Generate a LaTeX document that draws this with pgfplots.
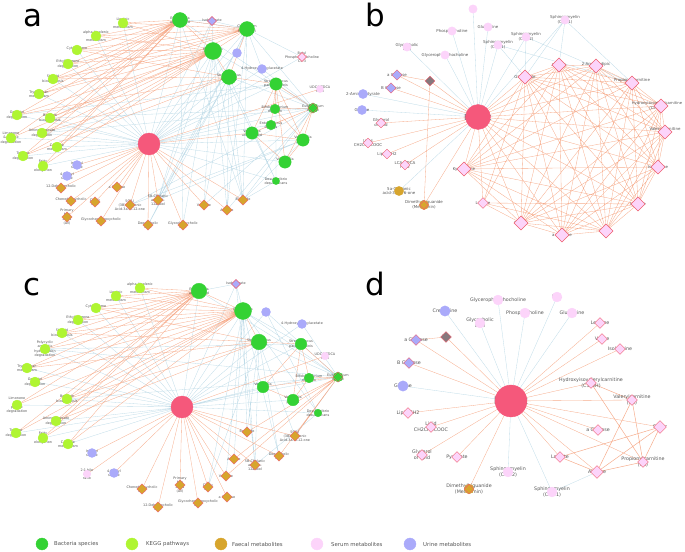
\documentclass[border=0pt]{standalone}
\usepackage{pgfplots}
\pgfplotsset{compat=1.18}
\usepackage{fontspec}
\setmainfont{DejaVu Sans}
\definecolor{bactc}{RGB}{52,210,52}
\definecolor{keggc}{RGB}{175,245,50}
\definecolor{faecc}{RGB}{215,165,45}
\definecolor{serc}{RGB}{252,212,250}
\definecolor{urc}{RGB}{170,170,250}
\definecolor{hubc}{RGB}{245,88,123}
\definecolor{dred}{RGB}{238,95,110}
\definecolor{agec}{RGB}{135,120,125}
\definecolor{edgeo}{RGB}{246,172,140}
\definecolor{edgeb}{RGB}{192,220,232}
\definecolor{labc}{RGB}{85,85,85}
\tikzset{
 la/.style={font=\fontsize{3.4}{4.2}\selectfont, text=labc, align=center, inner sep=0pt},
 lb/.style={font=\fontsize{4}{4.9}\selectfont, text=labc, align=center, inner sep=0pt},
 ld/.style={font=\fontsize{4.8}{6.2}\selectfont, text=labc, align=center, inner sep=0pt},
 pl/.style={font=\fontsize{31}{31}\selectfont, anchor=base west, inner sep=0pt},
 lg/.style={font=\fontsize{5.4}{6}\selectfont, text=labc, anchor=west, inner sep=0pt},
}
\pgfplotsset{
 eo/.style={color=edgeo, line width=0.32pt, line join=round, mark=none},
 eb/.style={color=edgeb, line width=0.32pt, line join=round, mark=none},
}
\begin{document}
\begin{tikzpicture}
\begin{axis}[at={(0,0)}, anchor=south west, scale only axis, width=685bp, height=552bp,
 xmin=0, xmax=685, ymin=0, ymax=552, y dir=reverse, axis lines=none, clip=false]

% ================= PANEL A edges =================
\addplot[eb] coordinates {(149,144)(123,23)(149,144)(96,36)(149,144)(77,50)(149,144)(68,64)(149,144)(53,79)(149,144)(39,94)(149,144)(17,115)(149,144)(50,118)(149,144)(42,133)(149,144)(11,138)(149,144)(57,147)(149,144)(23,156)(149,144)(43,166)(149,144)(180,20)(149,144)(247,29)(149,144)(213,51)(149,144)(229,77)(149,144)(276,84)(149,144)(275,109)(149,144)(271,125)(149,144)(313,108)(149,144)(303,140)(149,144)(285,162)(149,144)(276,181)(149,144)(237,53)(149,144)(262,69)(149,144)(212,21)(149,144)(302,57)};
\addplot[eb] coordinates {(213,51)(204,205)(213,51)(227,210)(213,51)(243,200)(213,51)(183,225)(213,51)(158,200)(229,77)(204,205)(229,77)(227,210)(229,77)(243,200)(229,77)(148,225)(247,29)(227,210)(247,29)(243,200)(247,29)(158,200)(247,29)(237,53)(247,29)(262,69)(247,29)(302,57)(247,29)(313,108)(213,51)(313,108)(229,77)(313,108)(180,20)(313,108)(262,69)(313,108)(227,210)(313,108)(243,200)(313,108)(204,205)(313,108)(130,205)(313,108)(50,118)(313,108)(42,133)(276,84)(17,115)(276,84)(276,181)(213,51)(276,181)(229,77)(276,181)(243,200)(303,140)(130,205)(303,140)(158,200)(212,21)(180,20)(212,21)(213,51)(212,21)(247,29)(180,20)(183,225)(180,20)(243,200)};
\addplot[eo] coordinates {(149,144)(61,188)(149,144)(117,187)(149,144)(71,201)(149,144)(95,202)(149,144)(130,205)(149,144)(158,200)(149,144)(204,205)(149,144)(227,210)(149,144)(243,200)(149,144)(67,217)(149,144)(101,221)(149,144)(148,225)(149,144)(183,225)(149,144)(77,165)(149,144)(67,176)(149,144)(252,133)(149,144)(320,89)};
\addplot[eo] coordinates {(180,20)(123,23)(180,20)(96,36)(180,20)(77,50)(180,20)(68,64)(180,20)(53,79)(180,20)(39,94)(180,20)(17,115)(180,20)(50,118)(180,20)(42,133)(180,20)(11,138)(180,20)(57,147)(180,20)(23,156)(180,20)(43,166)(180,20)(247,29)(180,20)(213,51)};
\addplot[eo] coordinates {(213,51)(123,23)(213,51)(96,36)(213,51)(77,50)(213,51)(68,64)(213,51)(53,79)(213,51)(39,94)(213,51)(17,115)(213,51)(50,118)(213,51)(42,133)(213,51)(11,138)(213,51)(57,147)(213,51)(23,156)(213,51)(43,166)(213,51)(247,29)(213,51)(229,77)};
\addplot[eo] coordinates {(247,29)(123,23)(247,29)(96,36)(247,29)(77,50)(247,29)(68,64)(247,29)(53,79)(247,29)(39,94)(247,29)(50,118)(247,29)(229,77)(77,50)(229,77)(53,79)(229,77)(17,115)(229,77)(42,133)(229,77)(23,156)(229,77)(276,84)};
\addplot[eo] coordinates {(276,84)(303,140)(276,84)(285,162)(276,84)(313,108)(276,84)(252,133)(276,84)(275,109)(276,84)(271,125)(252,133)(303,140)(252,133)(285,162)(252,133)(271,125)(252,133)(313,108)(303,140)(285,162)(303,140)(313,108)(303,140)(275,109)(313,108)(271,125)(313,108)(275,109)(313,108)(285,162)};

% ================= PANEL C edges =================
\addplot[eb] coordinates {(182,407)(140,288)(182,407)(116,296)(182,407)(96,308)(182,407)(78,320)(182,407)(62,333)(182,407)(45,349)(182,407)(27,368)(182,407)(35,382)(182,407)(17,405)(182,407)(67,399)(182,407)(56,421)(182,407)(16,433)(182,407)(43,438)(182,407)(68,444)(182,407)(199,291)(182,407)(243,311)(182,407)(259,342)(182,407)(301,344)(182,407)(338,377)(182,407)(309,378)(182,407)(263,387)(182,407)(293,400)(182,407)(318,413)(182,407)(266,312)(182,407)(302,324)(182,407)(236,284)};
\addplot[eb] coordinates {(243,311)(247,432)(243,311)(234,459)(243,311)(255,465)(243,311)(279,456)(243,311)(226,476)(243,311)(208,487)(259,342)(247,432)(259,342)(255,465)(259,342)(279,456)(259,342)(295,436)(338,377)(243,311)(338,377)(259,342)(338,377)(199,291)(338,377)(302,324)(338,377)(266,312)(318,413)(243,311)(318,413)(255,465)(236,284)(199,291)(236,284)(243,311)(301,344)(45,349)(338,377)(67,399)};
\addplot[eo] coordinates {(182,407)(247,432)(182,407)(295,436)(182,407)(234,459)(182,407)(255,465)(182,407)(279,456)(182,407)(226,476)(182,407)(208,487)(182,407)(227,497)(182,407)(180,485)(182,407)(142,489)(182,407)(198,503)(182,407)(158,507)(182,407)(92,453)(182,407)(114,473)(182,407)(87,474)(182,407)(325,356)};
\addplot[eo] coordinates {(199,291)(140,288)(199,291)(116,296)(199,291)(96,308)(199,291)(78,320)(199,291)(62,333)(199,291)(45,349)(199,291)(27,368)(199,291)(35,382)(199,291)(17,405)(199,291)(67,399)(199,291)(56,421)(199,291)(16,433)(199,291)(43,438)(199,291)(68,444)(199,291)(243,311)};
\addplot[eo] coordinates {(243,311)(140,288)(243,311)(116,296)(243,311)(96,308)(243,311)(78,320)(243,311)(62,333)(243,311)(45,349)(243,311)(27,368)(243,311)(35,382)(243,311)(17,405)(243,311)(67,399)(243,311)(56,421)(243,311)(16,433)(243,311)(43,438)(243,311)(68,444)(243,311)(259,342)};
\addplot[eo] coordinates {(259,342)(96,308)(259,342)(62,333)(259,342)(27,368)(259,342)(67,399)(259,342)(56,421)(259,342)(301,344)(293,400)(301,344)(338,377)(301,344)(309,378)(301,344)(263,387)(293,400)(263,387)(338,377)(293,400)(309,378)(338,377)(247,432)(338,377)(295,436)(338,377)(234,459)(338,377)(279,456)(338,377)(226,476)};

% ================= PANEL B edges =================
\addplot[eb] coordinates {(478,117)(473,9)(478,117)(488,27)(478,117)(452,31)(478,117)(526,37)(478,117)(498,45)(478,117)(407,47)(478,117)(445,55)(478,117)(363,94)(478,117)(362,110)(478,117)(399,191)(478,117)(565,20)(525,77)(565,20)(559,65)(565,20)(632,83)(526,37)(525,77)(526,37)(632,83)(498,45)(525,77)};
\addplot[eo] coordinates {(478,117)(525,77)(478,117)(559,65)(478,117)(596,66)(478,117)(632,83)(478,117)(661,106)(478,117)(665,132)(478,117)(658,167)(478,117)(638,204)(478,117)(606,231)(478,117)(562,235)(478,117)(521,223)(478,117)(483,203)(478,117)(464,169)(478,117)(397,75)(478,117)(430,81)(478,117)(391,88)(478,117)(381,123)(478,117)(368,143)(478,117)(387,154)(478,117)(405,165)(478,117)(424,205)(430,81)(397,75)};
\addplot[eo] coordinates {(525,77)(559,65)(525,77)(596,66)(525,77)(632,83)(525,77)(661,106)(525,77)(665,132)(525,77)(658,167)(525,77)(638,204)(525,77)(606,231)(525,77)(562,235)(525,77)(521,223)(525,77)(483,203)(525,77)(464,169)
(559,65)(596,66)(559,65)(632,83)(559,65)(661,106)(559,65)(665,132)(559,65)(658,167)(559,65)(638,204)(559,65)(606,231)(559,65)(562,235)(559,65)(521,223)(559,65)(483,203)(559,65)(464,169)
(596,66)(632,83)(596,66)(661,106)(596,66)(665,132)(596,66)(658,167)(596,66)(638,204)(596,66)(606,231)(596,66)(562,235)(596,66)(521,223)(596,66)(464,169)
(632,83)(661,106)(632,83)(665,132)(632,83)(658,167)(632,83)(638,204)(632,83)(606,231)(632,83)(562,235)(632,83)(521,223)(632,83)(464,169)
(661,106)(665,132)(661,106)(658,167)(661,106)(638,204)(661,106)(606,231)(661,106)(562,235)(661,106)(521,223)(661,106)(464,169)
(665,132)(658,167)(665,132)(638,204)(665,132)(606,231)(665,132)(562,235)(665,132)(521,223)(665,132)(464,169)
(658,167)(638,204)(658,167)(606,231)(658,167)(562,235)(658,167)(521,223)(658,167)(464,169)
(638,204)(606,231)(638,204)(562,235)(638,204)(521,223)(638,204)(483,203)(638,204)(464,169)
(606,231)(562,235)(606,231)(521,223)(606,231)(483,203)(606,231)(464,169)
(562,235)(521,223)(562,235)(464,169)
(521,223)(483,203)(521,223)(464,169)};

% ================= PANEL D edges =================
\addplot[eb] coordinates {(511,401)(445,311)(511,401)(403,386)(511,401)(498,300)(511,401)(557,297)(511,401)(480,323)(511,401)(525,313)(511,401)(572,313)(511,401)(508,472)(511,401)(552,492)(597,472)};
\addplot[eo] coordinates {(511,401)(600,323)(511,401)(602,339)(511,401)(620,349)(511,401)(591,383)(511,401)(632,400)(511,401)(660,427)(511,401)(598,430)(511,401)(408,413)(511,401)(431,427)(511,401)(422,455)(511,401)(457,457)(511,401)(560,457)(511,401)(643,462)(511,401)(597,472)(511,401)(416,340)(511,401)(409,363)(511,401)(446,337)(511,401)(469,489)};
\addplot[eo] coordinates {(446,337)(416,340)};
\addplot[eo, line width=0.5pt] coordinates {(591,383)(643,462)(632,400)(597,472)(660,427)(560,457)(597,472)(643,462)(660,427)(597,472)(632,400)(643,462)(591,383)(632,400)};

% ================= NODES: panel A =================
\addplot[only marks, mark=*, mark size=11, mark options={fill=hubc, draw=hubc}] coordinates {(149,144)};
\addplot[only marks, mark=*, mark size=8.5, mark options={fill=bactc, draw=bactc}] coordinates {(213,51)};
\addplot[only marks, mark=*, mark size=7.5, mark options={fill=bactc, draw=bactc}] coordinates {(180,20)(247,29)(229,77)};
\addplot[only marks, mark=*, mark size=6.2, mark options={fill=bactc, draw=bactc}] coordinates {(276,84)(252,133)(303,140)(285,162)};
\addplot[only marks, mark=*, mark size=4.8, mark options={fill=bactc, draw=bactc}] coordinates {(275,109)(271,125)(313,108)};
\addplot[only marks, mark=*, mark size=3.6, mark options={fill=bactc, draw=bactc}] coordinates {(276,181)};
\addplot[only marks, mark=square*, mark size=3.6, mark options={rotate=45, fill=bactc, draw=dred, line width=0.4pt}] coordinates {(313,108)};
\addplot[only marks, mark=*, mark size=5, mark options={fill=keggc, draw=keggc}] coordinates {(123,23)(96,36)(77,50)(68,64)(53,79)(39,94)(17,115)(50,118)(42,133)(11,138)(57,147)(23,156)(43,166)};
\addplot[only marks, mark=square*, mark size=3.6, mark options={rotate=45, fill=faecc, draw=dred, line width=0.4pt}] coordinates {(61,188)(117,187)(71,201)(95,202)(130,205)(158,200)(204,205)(227,210)(243,200)(67,217)(101,221)(148,225)(183,225)};
\addplot[only marks, mark=*, mark size=4.5, mark options={fill=urc, draw=urc}] coordinates {(237,53)(262,69)(77,165)(67,176)};
\addplot[only marks, mark=square*, mark size=3.2, mark options={rotate=45, fill=urc, draw=dred, line width=0.4pt}] coordinates {(212,21)};
\addplot[only marks, mark=square*, mark size=3.2, mark options={rotate=45, fill=serc, draw=dred, line width=0.4pt}] coordinates {(302,57)};
\addplot[only marks, mark=*, mark size=3.6, mark options={fill=serc, draw=serc}] coordinates {(320,89)};

% ================= NODES: panel C =================
\addplot[only marks, mark=*, mark size=11, mark options={fill=hubc, draw=hubc}] coordinates {(182,407)};
\addplot[only marks, mark=*, mark size=8.5, mark options={fill=bactc, draw=bactc}] coordinates {(243,311)};
\addplot[only marks, mark=*, mark size=7.8, mark options={fill=bactc, draw=bactc}] coordinates {(199,291)(259,342)};
\addplot[only marks, mark=*, mark size=5.8, mark options={fill=bactc, draw=bactc}] coordinates {(301,344)(263,387)(293,400)};
\addplot[only marks, mark=*, mark size=4.8, mark options={fill=bactc, draw=bactc}] coordinates {(309,378)(338,377)};
\addplot[only marks, mark=*, mark size=3.8, mark options={fill=bactc, draw=bactc}] coordinates {(318,413)};
\addplot[only marks, mark=square*, mark size=3.6, mark options={rotate=45, fill=bactc, draw=dred, line width=0.4pt}] coordinates {(338,377)};
\addplot[only marks, mark=*, mark size=5, mark options={fill=keggc, draw=keggc}] coordinates {(140,288)(116,296)(96,308)(78,320)(62,333)(45,349)(27,368)(35,382)(17,405)(67,399)(56,421)(16,433)(43,438)(68,444)};
\addplot[only marks, mark=square*, mark size=3.6, mark options={rotate=45, fill=faecc, draw=dred, line width=0.4pt}] coordinates {(247,432)(295,436)(234,459)(255,465)(279,456)(226,476)(208,487)(227,497)(180,485)(142,489)(198,503)(158,507)};
\addplot[only marks, mark=*, mark size=4.5, mark options={fill=urc, draw=urc}] coordinates {(266,312)(302,324)(92,453)(114,473)};
\addplot[only marks, mark=square*, mark size=3.2, mark options={rotate=45, fill=urc, draw=dred, line width=0.4pt}] coordinates {(236,284)};
\addplot[only marks, mark=*, mark size=3.8, mark options={fill=serc, draw=serc}] coordinates {(325,356)(87,474)};

% ================= NODES: panel B =================
\addplot[only marks, mark=*, mark size=12.5, mark options={fill=hubc, draw=hubc}] coordinates {(478,117)};
\addplot[only marks, mark=*, mark size=4.2, mark options={fill=serc, draw=serc}] coordinates {(473,9)(488,27)(452,31)(565,20)(526,37)(498,45)(407,47)(445,55)};
\addplot[only marks, mark=*, mark size=4.6, mark options={fill=urc, draw=urc}] coordinates {(363,94)(362,110)};
\addplot[only marks, mark=square*, mark size=3.6, mark options={rotate=45, fill=urc, draw=dred, line width=0.4pt}] coordinates {(397,75)(391,88)};
\addplot[only marks, mark=square*, mark size=3.4, mark options={rotate=45, fill=agec, draw=dred, line width=0.4pt}] coordinates {(430,81)};
\addplot[only marks, mark=square*, mark size=3.4, mark options={rotate=45, fill=serc, draw=dred, line width=0.4pt}] coordinates {(381,123)(368,143)(387,154)(405,165)};
\addplot[only marks, mark=*, mark size=4.6, mark options={fill=faecc, draw=faecc}] coordinates {(399,191)(424,205)};
\addplot[only marks, mark=square*, mark size=3.2, mark options={rotate=45, fill=faecc, draw=dred, line width=0.4pt}] coordinates {(424,205)};
\addplot[only marks, mark=square*, mark size=5, mark options={rotate=45, fill=serc, draw=dred, line width=0.45pt}] coordinates {(525,77)(559,65)(596,66)(632,83)(661,106)(665,132)(658,167)(638,204)(606,231)(562,235)(521,223)(464,169)};
\addplot[only marks, mark=square*, mark size=3.8, mark options={rotate=45, fill=serc, draw=dred, line width=0.45pt}] coordinates {(483,203)};

% ================= NODES: panel D =================
\addplot[only marks, mark=*, mark size=16, mark options={fill=hubc, draw=hubc}] coordinates {(511,401)};
\addplot[only marks, mark=*, mark size=5.2, mark options={fill=urc, draw=urc}] coordinates {(445,311)(403,386)};
\addplot[only marks, mark=*, mark size=5, mark options={fill=serc, draw=serc}] coordinates {(498,300)(557,297)(480,323)(525,313)(572,313)(508,472)(552,492)};
\addplot[only marks, mark=square*, mark size=3.8, mark options={rotate=45, fill=serc, draw=dred, line width=0.45pt}] coordinates {(600,323)(602,339)(620,349)(591,383)(632,400)(598,430)(408,413)(431,427)(422,455)(457,457)(560,457)(643,462)};
\addplot[only marks, mark=square*, mark size=4.5, mark options={rotate=45, fill=serc, draw=dred, line width=0.45pt}] coordinates {(660,427)(597,472)};
\addplot[only marks, mark=square*, mark size=3.8, mark options={rotate=45, fill=urc, draw=dred, line width=0.45pt}] coordinates {(416,340)(409,363)};
\addplot[only marks, mark=square*, mark size=3.8, mark options={rotate=45, fill=agec, draw=dred, line width=0.45pt}] coordinates {(446,337)};
\addplot[only marks, mark=*, mark size=4.8, mark options={fill=faecc, draw=faecc}] coordinates {(469,489)};
\addplot[only marks, mark=square*, mark size=3.4, mark options={rotate=45, fill=faecc, draw=dred, line width=0.4pt}] coordinates {(469,489)};

% ================= LEGEND =================
\addplot[only marks, mark=*, mark size=6, mark options={fill=bactc, draw=bactc}] coordinates {(42,544)};
\addplot[only marks, mark=*, mark size=6, mark options={fill=keggc, draw=keggc}] coordinates {(132,544)};
\addplot[only marks, mark=*, mark size=6, mark options={fill=faecc, draw=faecc}] coordinates {(221,544)};
\addplot[only marks, mark=*, mark size=6, mark options={fill=serc, draw=serc}] coordinates {(317,544)};
\addplot[only marks, mark=*, mark size=6, mark options={fill=urc, draw=urc}] coordinates {(410,544)};
\node[lg] at (axis cs:54,544) {Bacteria species};
\node[lg] at (axis cs:146,544) {KEGG pathways};
\node[lg] at (axis cs:232,544) {Faecal metabolites};
\node[lg] at (axis cs:331,544) {Serum metabolites};
\node[lg] at (axis cs:423,544) {Urine metabolites};

% ================= panel letters =================
\node[pl] at (axis cs:23,27) {a};
\node[pl] at (axis cs:365,27) {b};
\node[pl] at (axis cs:23,295) {c};
\node[pl] at (axis cs:365,295) {d};

% ================= LABELS panel A =================
\node[font=\fontsize{6.5}{7}\selectfont, text=labc] at (axis cs:149,144) {BMI};
\node[la] at (axis cs:180,20) {Escherichia\\unclassified};
\node[la] at (axis cs:247,29) {Clostridium\\hathewayi};
\node[la] at (axis cs:213,51) {Escherichia\\coli};
\node[la] at (axis cs:229,77) {Streptococcus\\salivarius};
\node[la] at (axis cs:276,84) {Streptococcus\\parasanguinis};
\node[la] at (axis cs:275,109) {Bifidobacterium\\dentium};
\node[la] at (axis cs:271,125) {Enterococcus\\faecalis};
\node[la] at (axis cs:252,133) {Veillonella\\unclassified};
\node[la] at (axis cs:303,140) {Veillonella\\parvula};
\node[la] at (axis cs:285,162) {Veillonella\\dispar};
\node[la] at (axis cs:276,181) {Desulfovibrio\\desulfuricans};
\node[la] at (axis cs:313,108) {Eubacterium\\rectale};
\node[la] at (axis cs:212,21) {Isobutyrate};
\node[la] at (axis cs:237,53) {PAG};
\node[la] at (axis cs:262,69) {4-Hydroxyphenylacetate};
\node[la] at (axis cs:302,57) {Butyl\\Phosphatidylcholine\\C3:3};
\node[la] at (axis cs:320,89) {UDCA/CDCA\\ratio};
\node[la] at (axis cs:123,23) {Linoleic\\acid\\metabolism};
\node[la] at (axis cs:96,36) {alpha-Linolenic\\acid\\metabolism};
\node[la] at (axis cs:77,50) {Cytochrome\\P450};
\node[la] at (axis cs:68,64) {Ethylbenzene\\degradation};
\node[la] at (axis cs:53,79) {Steroid\\biosynthesis};
\node[la] at (axis cs:39,94) {Tryptophan\\metabolism};
\node[la] at (axis cs:17,115) {Geraniol\\degradation};
\node[la] at (axis cs:50,118) {Betalain\\biosynthesis};
\node[la] at (axis cs:42,133) {Aminobenzoate\\degradation};
\node[la] at (axis cs:11,138) {Limonene\\\& pinene\\degradation};
\node[la] at (axis cs:57,147) {Caffeine\\metabolism};
\node[la] at (axis cs:23,156) {Toluene\\degradation};
\node[la] at (axis cs:43,166) {Fatty\\acid\\elongation};
\node[la] at (axis cs:77,165) {Indoxyl\\sulfate};
\node[la] at (axis cs:67,176) {4-Cresyl\\sulfate};
\node[la] at (axis cs:61,188) {12-Dehydrocholic\\acid};
\node[la] at (axis cs:117,187) {a Glucose};
\node[la] at (axis cs:71,201) {Chenodeoxycholic\\acid};
\node[la] at (axis cs:95,202) {Cholic\\acid};
\node[la] at (axis cs:130,205) {5C(L)\\(3B)-Cholenic\\Acid-3a-ol-12-one};
\node[la] at (axis cs:158,200) {5B-Cholanic\\acid-3a-\\12a-diol};
\node[la] at (axis cs:204,205) {Valerate};
\node[la] at (axis cs:227,210) {Acetate};
\node[la] at (axis cs:243,200) {Butyrate};
\node[la] at (axis cs:67,217) {Primary\\bile\\acids\\(All)};
\node[la] at (axis cs:101,221) {Glycochenodeoxycholic\\acid};
\node[la] at (axis cs:148,225) {Deoxycholic\\acid};
\node[la] at (axis cs:183,225) {Glycodeoxycholic\\acid};

% ================= LABELS panel C =================
\node[font=\fontsize{6.5}{7}\selectfont, text=labc] at (axis cs:182,407) {BMI};
\node[la] at (axis cs:199,291) {Escherichia\\unclassified};
\node[la] at (axis cs:243,311) {Escherichia\\coli};
\node[la] at (axis cs:259,342) {Streptococcus\\salivarius};
\node[la] at (axis cs:301,344) {Streptococcus\\parasanguinis};
\node[la] at (axis cs:309,378) {Bifidobacterium\\dentium};
\node[la] at (axis cs:338,377) {Eubacterium\\rectale};
\node[la] at (axis cs:263,387) {Veillonella\\dispar};
\node[la] at (axis cs:293,400) {Veillonella\\parvula};
\node[la] at (axis cs:318,413) {Desulfovibrio\\desulfuricans};
\node[la] at (axis cs:236,284) {Isobutyrate};
\node[la] at (axis cs:266,312) {PAG};
\node[la] at (axis cs:302,324) {4-Hydroxyphenylacetate};
\node[la] at (axis cs:325,356) {UDCA/CDCA\\ratio};
\node[la] at (axis cs:140,288) {alpha-Linolenic\\acid\\metabolism};
\node[la] at (axis cs:116,296) {Linoleic\\acid\\metabolism};
\node[la] at (axis cs:96,308) {Cytochrome\\P450};
\node[la] at (axis cs:78,320) {Ethylbenzene\\degradation};
\node[la] at (axis cs:62,333) {Steroid\\biosynthesis};
\node[la] at (axis cs:45,349) {Polycyclic\\aromatic\\hydrocarbon\\degradation};
\node[la] at (axis cs:27,368) {Tryptophan\\metabolism};
\node[la] at (axis cs:35,382) {Geraniol\\degradation};
\node[la] at (axis cs:17,405) {Limonene\\and\\pinene\\degradation};
\node[la] at (axis cs:67,399) {Betalain\\biosynthesis};
\node[la] at (axis cs:56,421) {Aminobenzoate\\degradation};
\node[la] at (axis cs:16,433) {Toluene\\degradation};
\node[la] at (axis cs:43,438) {Fatty\\acid\\elongation};
\node[la] at (axis cs:68,444) {Caffeine\\metabolism};
\node[la] at (axis cs:92,453) {Indoxyl\\sulfate};
\node[la] at (axis cs:114,473) {4-Cresyl\\sulfate};
\node[la] at (axis cs:87,474) {2:1 bile\\acid\\ratio};
\node[la] at (axis cs:247,432) {Butyrate};
\node[la] at (axis cs:295,436) {5C(L)\\(3B)-Cholenic\\Acid-3a-ol-12-one};
\node[la] at (axis cs:234,459) {Acetate};
\node[la] at (axis cs:255,465) {5B-Cholanic\\acid-3a-\\12a-diol};
\node[la] at (axis cs:279,456) {Deoxycholic\\acid};
\node[la] at (axis cs:226,476) {Valerate};
\node[la] at (axis cs:208,487) {Cholic\\acid};
\node[la] at (axis cs:227,497) {a Glucose};
\node[la] at (axis cs:180,485) {Primary\\bile\\acids\\(All)};
\node[la] at (axis cs:142,489) {Chenodeoxycholic\\acid};
\node[la] at (axis cs:198,503) {Glycochenodeoxycholic\\acid};
\node[la] at (axis cs:158,507) {12-Dehydrocholic\\acid};

% ================= LABELS panel B =================
\node[font=\fontsize{8.5}{9}\selectfont, text=labc] at (axis cs:478,117) {HbA1c};
\node[lb] at (axis cs:473,9) {HDL};
\node[lb] at (axis cs:488,27) {Glutamine};
\node[lb] at (axis cs:452,31) {Phosphocholine};
\node[lb] at (axis cs:565,20) {Sphingomyelin\\(C24:1)};
\node[lb] at (axis cs:526,37) {Sphingomyelin\\(C20:2)};
\node[lb] at (axis cs:498,45) {Sphingomyelin\\(C28:1)};
\node[lb] at (axis cs:407,47) {Glycocholic\\acid};
\node[lb] at (axis cs:445,55) {Glycerophosphocholine};
\node[lb] at (axis cs:397,75) {a Glucose};
\node[lb] at (axis cs:430,81) {Age};
\node[lb] at (axis cs:391,88) {B Glucose};
\node[lb] at (axis cs:363,94) {2-Aminobutyrate};
\node[lb] at (axis cs:362,110) {Glycine};
\node[lb] at (axis cs:381,123) {Glycerol\\of lipid};
\node[lb] at (axis cs:368,143) {Lipid\\CH2CH2COOC};
\node[lb] at (axis cs:387,154) {Lipid CH2};
\node[lb] at (axis cs:405,165) {LCA/UDCA\\ratio};
\node[lb] at (axis cs:399,191) {5a-Cholanic\\acid-3a-ol-6-one};
\node[lb] at (axis cs:424,205) {Dimethylbiguanide\\(Metformin)};
\node[lb] at (axis cs:525,77) {Glutamate};
\node[lb] at (axis cs:559,65) {Alanine};
\node[lb] at (axis cs:596,66) {2-Aminoadipic\\acid};
\node[lb] at (axis cs:632,83) {Propionylcarnitine\\(C3)};
\node[lb, font=\fontsize{3.8}{4.7}\selectfont] at (axis cs:657,106) {Hydroxyisovalerylcarnitine\\(C5-OH)};
\node[lb] at (axis cs:665,132) {Valerylcarnitine\\(C5)};
\node[lb] at (axis cs:658,167) {Isoleucine};
\node[lb] at (axis cs:638,204) {Leucine};
\node[lb] at (axis cs:606,231) {Valine};
\node[lb] at (axis cs:562,235) {a Glucose};
\node[lb] at (axis cs:521,223) {Proline};
\node[lb] at (axis cs:483,203) {Lactate};
\node[lb] at (axis cs:464,169) {Kynurenine};

% ================= LABELS panel D =================
\node[font=\fontsize{10.5}{11}\selectfont, text=labc] at (axis cs:511,401) {HbA1c};
\node[ld] at (axis cs:445,311) {Creatinine};
\node[ld] at (axis cs:498,300) {Glycerophosphocholine};
\node[ld] at (axis cs:557,297) {HDL};
\node[ld] at (axis cs:480,323) {Glycocholic\\acid};
\node[ld] at (axis cs:525,313) {Phosphocholine};
\node[ld] at (axis cs:572,313) {Glutamine};
\node[ld] at (axis cs:600,323) {Leucine};
\node[ld] at (axis cs:602,339) {Valine};
\node[ld] at (axis cs:620,349) {Isoleucine};
\node[ld] at (axis cs:446,337) {Age};
\node[ld] at (axis cs:416,340) {a Glucose};
\node[ld] at (axis cs:409,363) {B Glucose};
\node[ld] at (axis cs:403,386) {Glycine};
\node[ld] at (axis cs:591,383) {Hydroxyisovalerylcarnitine\\(C5-OH)};
\node[ld] at (axis cs:632,400) {Valerylcarnitine\\(C5)};
\node[ld] at (axis cs:660,427) {Sugar};
\node[ld] at (axis cs:598,430) {a Glucose};
\node[ld] at (axis cs:408,413) {Lipid CH2};
\node[ld] at (axis cs:431,427) {Lipid\\CH2CH2COOC};
\node[ld] at (axis cs:422,455) {Glycerol\\of lipid};
\node[ld] at (axis cs:457,457) {Pyruvate};
\node[ld] at (axis cs:560,457) {Lactate};
\node[ld] at (axis cs:643,462) {Propionylcarnitine\\(C3)};
\node[ld] at (axis cs:597,472) {Alanine};
\node[ld] at (axis cs:508,472) {Sphingomyelin\\(C20:2)};
\node[ld] at (axis cs:469,489) {Dimethylbiguanide\\(Metformin)};
\node[ld] at (axis cs:552,492) {Sphingomyelin\\(C24:1)};
\end{axis}
\pgfresetboundingbox
\path[use as bounding box] (0,0) rectangle (685bp,552bp);
\end{tikzpicture}
\end{document}
